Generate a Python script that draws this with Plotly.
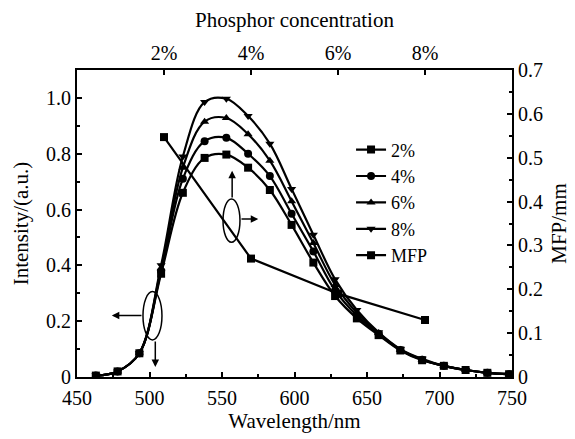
import plotly.graph_objects as go

wavelength = [463, 478, 493, 508, 523, 538, 553, 568, 583, 598, 613, 628, 643, 658, 673, 688, 703, 718, 733, 748]
int_2 = [0.005, 0.02, 0.085, 0.37, 0.66, 0.785, 0.797, 0.75, 0.67, 0.545, 0.41, 0.29, 0.21, 0.15, 0.095, 0.06, 0.04, 0.025, 0.015, 0.01]
int_4 = [0.005, 0.02, 0.085, 0.38, 0.71, 0.845, 0.857, 0.80, 0.72, 0.585, 0.45, 0.31, 0.22, 0.155, 0.097, 0.062, 0.04, 0.025, 0.015, 0.01]
int_6 = [0.005, 0.02, 0.085, 0.39, 0.75, 0.915, 0.928, 0.87, 0.775, 0.63, 0.48, 0.33, 0.23, 0.158, 0.098, 0.063, 0.04, 0.025, 0.015, 0.01]
int_8 = [0.005, 0.02, 0.085, 0.40, 0.79, 0.985, 0.997, 0.935, 0.836, 0.674, 0.51, 0.35, 0.24, 0.16, 0.10, 0.065, 0.04, 0.025, 0.015, 0.01]

conc = [2, 4, 6, 8]
conc_labels = ["2%", "4%", "6%", "8%"]
mfp = [0.547, 0.27, 0.19, 0.13]

FONT = "Liberation Serif"
FS = 20
FT = 21
fig = go.Figure()

series = [("2%", int_2, "square"), ("4%", int_4, "circle"),
          ("6%", int_6, "triangle-up"), ("8%", int_8, "triangle-down")]
for name, ys, sym in series:
    fig.add_trace(go.Scatter(x=wavelength, y=ys, name=name, mode="lines+markers",
                             line=dict(color="black", width=2.2, shape="spline", smoothing=1.0),
                             marker=dict(symbol=sym, size=8, color="black")))

fig.add_trace(go.Scatter(x=conc, y=mfp, name="MFP", mode="lines+markers",
                         xaxis="x2", yaxis="y2",
                         line=dict(color="black", width=2.2),
                         marker=dict(symbol="square", size=8, color="black")))

axis_common = dict(showline=True, linecolor="black", linewidth=2, mirror=False,
                   ticks="inside", tickcolor="black", tickwidth=2, ticklen=5,
                   showgrid=False, zeroline=False, automargin=False,
                   tickfont=dict(family=FONT, size=FS, color="black"))

fig.update_layout(
    width=575, height=439,
    margin=dict(l=69, r=71, t=62, b=70),
    paper_bgcolor="white", plot_bgcolor="white",
    font=dict(family=FONT, size=FS, color="black"),
    xaxis=dict(range=[450, 750], tickvals=[450, 500, 550, 600, 650, 700, 750],
               minor=dict(ticks="inside", tickcolor="black", ticklen=3, tickwidth=2, dtick=25, tick0=450),
               ticklabelstandoff=2,
               title=dict(text="Wavelength/nm", font=dict(family=FONT, size=FT), standoff=2),
               **axis_common),
    yaxis=dict(range=[0, 1.1], tickvals=[0, 0.2, 0.4, 0.6, 0.8, 1.0],
               ticktext=["0", "0.2", "0.4", "0.6", "0.8", "1.0"],
               minor=dict(ticks="inside", tickcolor="black", ticklen=3, tickwidth=2, dtick=0.1, tick0=0),
               title=dict(text="Intensity/(a.u.)", font=dict(family=FONT, size=FT), standoff=12),
               **axis_common),
    xaxis2=dict(range=[0, 10], overlaying="x", side="top", anchor="y",
                tickvals=conc, ticktext=conc_labels,
                title=dict(text="Phosphor concentration", font=dict(family=FONT, size=FT), standoff=10),
                **axis_common),
    yaxis2=dict(range=[0, 0.7], overlaying="y", side="right", anchor="x",
                tickvals=[0, 0.1, 0.2, 0.3, 0.4, 0.5, 0.6, 0.7],
                ticktext=["0", "0.1", "0.2", "0.3", "0.4", "0.5", "0.6", "0.7"],
                minor=dict(ticks="inside", tickcolor="black", ticklen=3, tickwidth=2, dtick=0.05, tick0=0),
                title=dict(text="MFP/mm", font=dict(family=FONT, size=FT), standoff=9),
                **axis_common),
    legend=dict(x=0.63, y=0.8, xanchor="left", yanchor="top", bgcolor="rgba(0,0,0,0)",
                font=dict(family=FONT, size=18), itemwidth=30, tracegroupgap=0),
    showlegend=True,
)

# ellipses marking which curve belongs to which axis
fig.add_shape(type="circle", xref="x", yref="y", x0=495.5, x1=508.6, y0=0.133, y1=0.306,
              line=dict(color="black", width=1.5))
fig.add_shape(type="circle", xref="x", yref="y", x0=550.7, x1=562.4, y0=0.483, y1=0.638,
              line=dict(color="black", width=1.5))

def arrow(x, y, axx, ayy):
    fig.add_annotation(x=x, y=y, xref="x", yref="y", ax=axx, ay=ayy, axref="x", ayref="y",
                       showarrow=True, arrowhead=2, arrowsize=1, arrowwidth=1.5,
                       arrowcolor="black", text="")

arrow(474, 0.22, 495.5, 0.22)
arrow(504, 0.036, 504, 0.133)
arrow(557, 0.739, 557, 0.638)
arrow(575, 0.566, 562.4, 0.566)

fig.write_html("out.html")
